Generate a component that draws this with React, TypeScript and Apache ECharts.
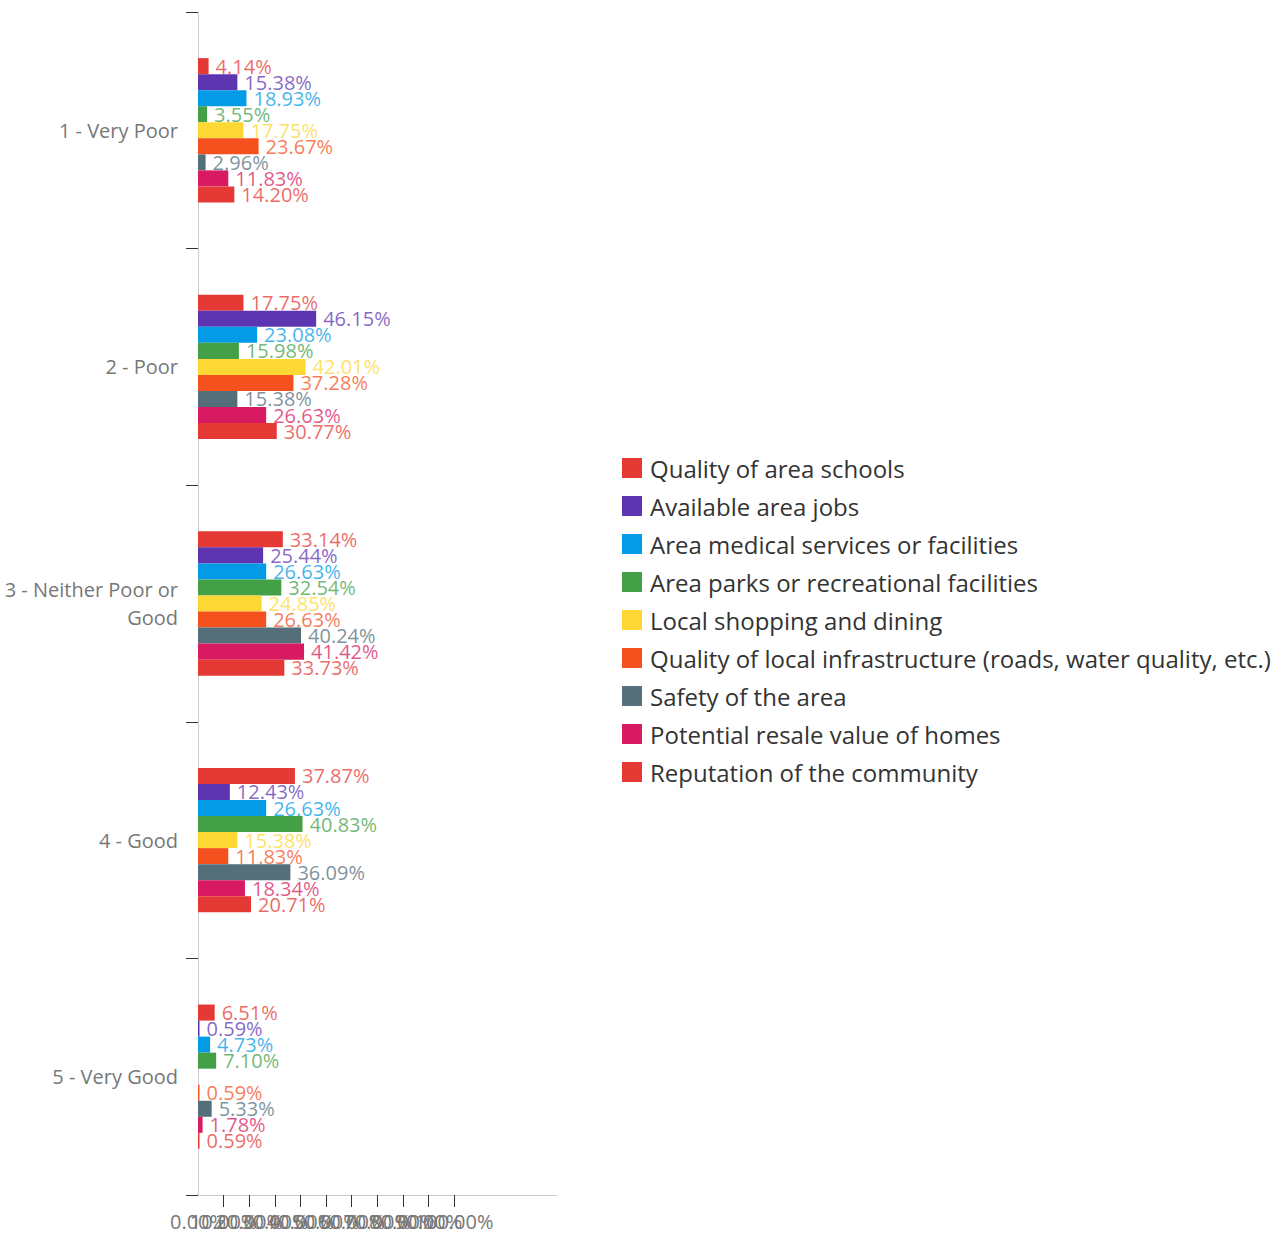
import React, { useEffect, useRef } from "react";
import * as echarts from "echarts";

const categories = ["1 - Very Poor", "2 - Poor", "3 - Neither Poor or Good", "4 - Good", "5 - Very Good"];
const seriesNames = [
  "Quality of area schools",
  "Available area jobs",
  "Area medical services or facilities",
  "Area parks or recreational facilities",
  "Local shopping and dining",
  "Quality of local infrastructure (roads, water quality, etc.)",
  "Safety of the area",
  "Potential resale value of homes",
  "Reputation of the community",
];
const colors = ["#e53935", "#5e35b1", "#039be5", "#43a047", "#fdd835", "#f4511e", "#546e7a", "#d81b60", "#e53935"];

const schools = [4.14, 17.75, 33.14, 37.87, 6.51];
const jobs = [15.38, 46.15, 25.44, 12.43, 0.59];
const medical = [18.93, 23.08, 26.63, 26.63, 4.73];
const parks = [3.55, 15.98, 32.54, 40.83, 7.1];
const shopping = [17.75, 42.01, 24.85, 15.38, null];
const infrastructure = [23.67, 37.28, 26.63, 11.83, 0.59];
const safety = [2.96, 15.38, 40.24, 36.09, 5.33];
const resale = [11.83, 26.63, 41.42, 18.34, 1.78];
const reputation = [14.2, 30.77, 33.73, 20.71, 0.59];
const seriesData = [schools, jobs, medical, parks, shopping, infrastructure, safety, resale, reputation];

const xTicks = [10, 20, 30, 40, 50, 60, 70, 80, 90, 100];
// tick labels 0%..100% (split into groups so the library does not drop overlapping ones)
const xLabelGroups = [
  [0, 30, 60, 90],
  [10, 40, 70, 100],
  [20, 50, 80],
];

const FONT = "Open Sans";

export default function App() {
  const ref = useRef<HTMLDivElement>(null);
  useEffect(() => {
    if (!ref.current) return;
    const chart = echarts.init(ref.current, null, { renderer: "svg" });
    const labelAxes = xLabelGroups.map((vals) => ({
      type: "value",
      gridIndex: 0,
      position: "bottom",
      offset: 0,
      min: 0,
      max: 100,
      splitLine: { show: false },
      axisLine: { show: false },
      axisTick: { show: false },
      axisLabel: {
        customValues: vals,
        showMinLabel: true,
        showMaxLabel: true,
        fontSize: 20,
        color: "#777",
        margin: 16,
        formatter: (v: number) => v.toFixed(2) + "%",
      },
    }));
    chart.setOption({
      animation: false,
      textStyle: { fontFamily: FONT },
      grid: { left: 198, right: 821, top: 12, bottom: 42, containLabel: false },
      graphic: [
        {
          type: "line",
          shape: { x1: 454, y1: 1195.5, x2: 557, y2: 1195.5 },
          style: { stroke: "#ccc", lineWidth: 1 },
          silent: true,
        },
      ],
      legend: {
        orient: "vertical",
        left: 622,
        top: 456,
        padding: 0,
        icon: "rect",
        itemWidth: 20,
        itemHeight: 20,
        itemGap: 14,
        textStyle: { fontSize: 24, color: "#333", fontFamily: FONT, padding: [0, 0, 0, 3] },
        data: seriesNames.map((n, i) => ({ name: n, itemStyle: { color: colors[i] } })),
      },
      xAxis: [
        {
          type: "value",
          position: "bottom",
          min: 0,
          max: 100,
          interval: 10,
          splitLine: { show: false },
          axisLine: { show: true, lineStyle: { color: "#ccc" } },
          axisTick: { show: true, customValues: xTicks, length: 12, lineStyle: { color: "#333" } },
          axisLabel: { show: false },
        },
        ...labelAxes,
      ],
      yAxis: {
        type: "category",
        inverse: true,
        data: categories.map((c) => (c === "3 - Neither Poor or Good" ? "3 - Neither Poor or\nGood" : c)),
        axisLine: { show: true, lineStyle: { color: "#ccc" } },
        axisTick: { show: true, length: 12, lineStyle: { color: "#333" } },
        axisLabel: { fontSize: 20, color: "#777", margin: 20, lineHeight: 28, align: "right" },
      },
      series: seriesNames.map((name, i) => ({
        name,
        type: "bar",
        xAxisIndex: 0,
        data: seriesData[i],
        barGap: "0%",
        barCategoryGap: "39%",
        itemStyle: { color: colors[i] },
        label: {
          show: true,
          position: "right",
          distance: 7,
          fontSize: 20,
          color: colors[i],
          opacity: 0.75,
          fontFamily: FONT,
          formatter: (p: any) => Number(p.value).toFixed(2) + "%",
        },
      })),
    });
    return () => chart.dispose();
  }, []);
  return <div ref={ref} style={{ position: "absolute", left: 0, top: 0, width: 1275, height: 1237 }} />;
}
